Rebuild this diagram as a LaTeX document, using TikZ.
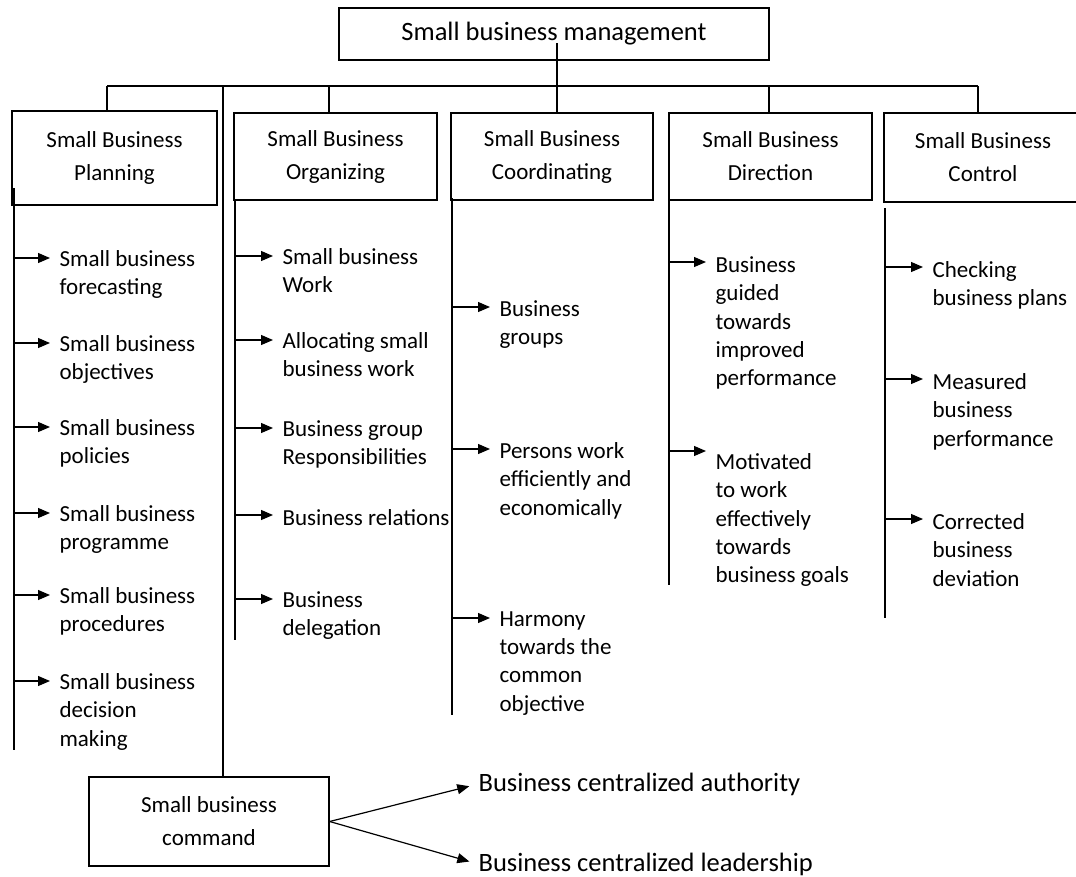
\documentclass[tikz,border=0pt]{standalone}
\usepackage{fontspec}
\setmainfont{Carlito}
\usepackage{tikz}
\usetikzlibrary{arrows.meta}
\tikzstyle{Arrow}=[-{Triangle[length=12pt,width=10pt]},shorten >=9pt]
\tikzstyle{Box}=[draw,line width=1.3pt,inner sep=0pt,align=center,font=\fontsize{23}{33}\selectfont]
\tikzstyle{Item}=[anchor=north west,inner sep=0pt,align=left,font=\fontsize{23}{28.3}\selectfont]

\begin{document}
\begin{tikzpicture}[x=1pt,y=-1pt,line width=1.2pt]

\useasboundingbox (0,0) rectangle (1076,876);
\clip (0,0) rectangle (1076,876);

\node[Box,minimum width=430pt,minimum height=52pt,font=\fontsize{26.5}{33}\selectfont] (mgmt) at (554,34) {Small business management};

\node[Box,minimum width=205pt,minimum height=94pt] (plan) at (114.5,158) {Small Business\\Planning};
\node[Box,minimum width=203pt,minimum height=87pt] (org) at (335.5,156.5) {Small Business\\Organizing};
\node[Box,minimum width=202pt,minimum height=87pt] (coord) at (552,156.5) {Small Business\\Coordinating};
\node[Box,minimum width=203pt,minimum height=87pt] (dir) at (770.5,156.5) {Small Business\\Direction};
\node[Box,minimum width=198pt,minimum height=89pt] (ctrl) at (983,157.5) {Small Business\\Control};
\node[Box,minimum width=240pt,minimum height=89pt] (cmd) at (209,821.5) {Small business\\command};

% bus
\coordinate (trunk) at (557,43);
\coordinate (busL) at (107,86);
\coordinate (busR) at (978,86);
\draw (trunk) -- (trunk |- coord.north);
\draw (busL) -- (busR);
\draw (busL) -- (busL |- plan.north);
\draw (223,86) -- (cmd.north -| 223,0);
\draw (329,86) -- (org.north -| 329,0);
\draw (769,86) -- (dir.north -| 769,0);
\draw (busR) -- (busR |- ctrl.north);

% planning
\draw (14,204) -- (14,750);
\draw[line width=2.5pt] (14,188) -- (14,220);
\coordinate (pa1) at (14,258); \node[Item] (p1) at (59,250) {Small business\\forecasting}; \draw[Arrow] (pa1) -- (pa1 -| p1.west);
\coordinate (pa2) at (14,343); \node[Item] (p2) at (59,335) {Small business\\objectives}; \draw[Arrow] (pa2) -- (pa2 -| p2.west);
\coordinate (pa3) at (14,427); \node[Item] (p3) at (59,419) {Small business\\policies}; \draw[Arrow] (pa3) -- (pa3 -| p3.west);
\coordinate (pa4) at (14,513); \node[Item] (p4) at (59,505) {Small business\\programme}; \draw[Arrow] (pa4) -- (pa4 -| p4.west);
\coordinate (pa5) at (14,595); \node[Item] (p5) at (59,587) {Small business\\procedures}; \draw[Arrow] (pa5) -- (pa5 -| p5.west);
\coordinate (pa6) at (14,681); \node[Item] (p6) at (59,673) {Small business\\decision\\making}; \draw[Arrow] (pa6) -- (pa6 -| p6.west);

% organizing
\draw (235,200) -- (235,640);
\coordinate (oa1) at (235,256); \node[Item] (o1) at (282,248) {Small business\\Work}; \draw[Arrow] (oa1) -- (oa1 -| o1.west);
\coordinate (oa2) at (235,340); \node[Item] (o2) at (282,332) {Allocating small\\business work}; \draw[Arrow] (oa2) -- (oa2 -| o2.west);
\coordinate (oa3) at (235,428); \node[Item] (o3) at (282,420) {Business group\\Responsibilities}; \draw[Arrow] (oa3) -- (oa3 -| o3.west);
\coordinate (oa4) at (235,515); \node[Item] (o4) at (282,509) {Business relations}; \draw[Arrow] (oa4) -- (oa4 -| o4.west);
\coordinate (oa5) at (235,599); \node[Item] (o5) at (282,591) {Business\\delegation}; \draw[Arrow] (oa5) -- (oa5 -| o5.west);

% coordinating
\draw (452,198) -- (452,715);
\coordinate (ca1) at (452,307); \node[Item] (c1) at (499,300) {Business\\groups}; \draw[Arrow] (ca1) -- (ca1 -| c1.west);
\coordinate (ca2) at (452,449); \node[Item] (c2) at (499,442) {Persons work\\efficiently and\\economically}; \draw[Arrow] (ca2) -- (ca2 -| c2.west);
\coordinate (ca3) at (452,618); \node[Item] (c3) at (499,611) {Harmony\\towards the\\common\\objective}; \draw[Arrow] (ca3) -- (ca3 -| c3.west);

% direction
\draw (669,200) -- (669,585);
\coordinate (da1) at (669,262); \node[Item] (d1) at (715,256) {Business\\guided\\towards\\improved\\performance}; \draw[Arrow] (da1) -- (da1 -| d1.west);
\coordinate (da2) at (669,451); \node[Item] (d2) at (715,453) {Motivated\\to work\\effectively\\towards\\business goals}; \draw[Arrow] (da2) -- (da2 -| d2.west);

% control
\draw (885,208) -- (885,618);
\coordinate (ka1) at (885,267); \node[Item] (k1) at (932,261) {Checking\\business plans}; \draw[Arrow] (ka1) -- (ka1 -| k1.west);
\coordinate (ka2) at (885,379); \node[Item] (k2) at (932,373) {Measured\\business\\performance}; \draw[Arrow] (ka2) -- (ka2 -| k2.west);
\coordinate (ka3) at (885,519); \node[Item] (k3) at (932,513) {Corrected\\business\\deviation}; \draw[Arrow] (ka3) -- (ka3 -| k3.west);

% command
\node[anchor=west,inner sep=0pt,font=\fontsize{26.5}{33}\selectfont] (auth) at (478,784) {Business centralized authority};
\node[anchor=west,inner sep=0pt,font=\fontsize{26.5}{33}\selectfont] (lead) at (478,864) {Business centralized leadership};
\draw[Arrow] (cmd.east) -- (auth.west);
\draw[Arrow] (cmd.east) -- (lead.west);

\end{tikzpicture}
\end{document}
